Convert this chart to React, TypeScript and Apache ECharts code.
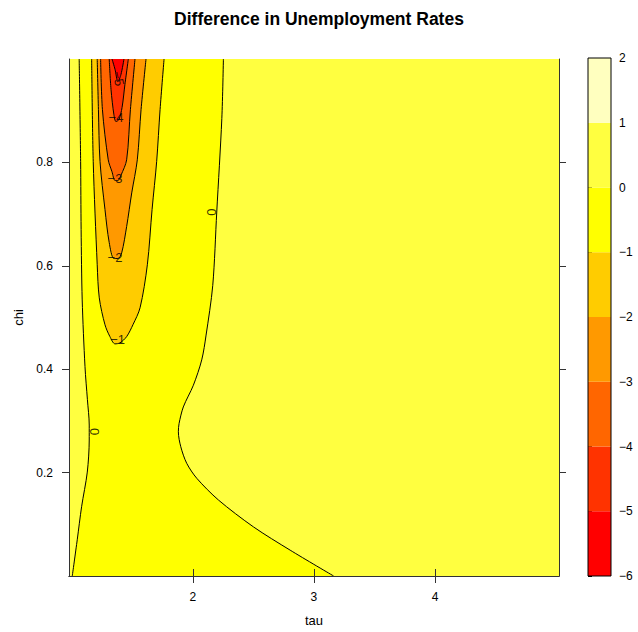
import React, { useEffect, useRef } from "react";
import * as echarts from "echarts";

// ---- axis ticks ----
const TAU_TICKS = [2, 3, 4];
const CHI_TICKS = [0.2, 0.4, 0.6, 0.8];
const TAU_RANGE = [0.978, 5.024];
const CHI_RANGE = [0, 1];

// ---- colour key ----
const LEVELS = [-6, -5, -4, -3, -2, -1, 0, 1, 2];
const BAND_COLORS = ["#FF0000", "#FF3300", "#FF6600", "#FF9900", "#FFCC00", "#FFFF00", "#FFFF40", "#FFFFBF"];

// ---- contour lines [tau, chi] ----
const CONTOUR_0_LEFT = [
  [1.005, 0], [1.046, 0.07], [1.082, 0.134], [1.129, 0.201], [1.145, 0.263], [1.145, 0.292],
  [1.13, 0.341], [1.11, 0.405], [1.087, 0.534], [1.078, 0.67], [1.074, 0.802], [1.062, 1.0],
];
const CONTOUR_0_RIGHT = [
  [2.253, 1.0], [2.24, 0.885], [2.198, 0.704], [2.165, 0.562], [2.11, 0.466], [2.074, 0.418],
  [2.005, 0.369], [1.922, 0.327], [1.887, 0.295], [1.881, 0.279], [1.901, 0.25], [1.95, 0.218],
  [2.033, 0.189], [2.212, 0.147], [2.501, 0.095], [2.804, 0.05], [3.163, 0],
];
const CONTOUR_M1 = [
  [1.165, 1.0], [1.178, 0.802], [1.211, 0.602], [1.228, 0.538], [1.275, 0.486], [1.316, 0.463],
  [1.358, 0.449], [1.399, 0.451], [1.454, 0.463], [1.506, 0.486], [1.565, 0.519], [1.625, 0.602],
  [1.664, 0.709], [1.702, 0.802], [1.73, 0.902], [1.763, 1.0],
];
const CONTOUR_M2 = [
  [1.211, 1.0], [1.221, 0.902], [1.234, 0.802], [1.275, 0.709], [1.31, 0.645], [1.349, 0.614],
  [1.382, 0.614], [1.413, 0.625], [1.454, 0.676], [1.496, 0.741], [1.542, 0.805], [1.573, 0.902],
  [1.614, 1.0],
];
const CONTOUR_M3 = [
  [1.239, 1.0], [1.254, 0.902], [1.302, 0.805], [1.333, 0.782], [1.358, 0.765], [1.382, 0.765],
  [1.407, 0.775], [1.454, 0.805], [1.485, 0.902], [1.523, 1.0],
];
const CONTOUR_M4 = [
  [1.31, 1.0], [1.325, 0.941], [1.349, 0.892], [1.366, 0.879], [1.391, 0.883], [1.416, 0.906],
  [1.44, 0.951], [1.468, 1.0],
];
const CONTOUR_M5 = [[1.333, 1.0], [1.358, 0.98], [1.382, 0.956], [1.407, 0.97], [1.432, 1.0]];

// contour labels
const LABEL_TEXTS = ["\u22125", "\u22124", "\u22123", "\u22122", "\u22121", "0", "0"];
const LABEL_POINTS = [
  [1.385, 0.962], [1.366, 0.886], [1.358, 0.768], [1.358, 0.617], [1.38, 0.457], [2.155, 0.704], [1.19, 0.279],
];
const LABEL_ROTATIONS = [-78, 0, 0, 0, 0, 90, 90];

const FONT = "'Liberation Sans', Arial, Helvetica, sans-serif";

export default function App() {
  const ref = useRef<HTMLDivElement>(null);

  useEffect(() => {
    if (!ref.current) return;
    const chart = echarts.init(ref.current, null, { renderer: "svg" });

    // filled regions: band -1..0 between the two zero contours, then nested U shapes
    const fills = [
      { pts: [...CONTOUR_0_LEFT, ...CONTOUR_0_RIGHT], color: BAND_COLORS[5] },
      { pts: CONTOUR_M1, color: BAND_COLORS[4] },
      { pts: CONTOUR_M2, color: BAND_COLORS[3] },
      { pts: CONTOUR_M3, color: BAND_COLORS[2] },
      { pts: CONTOUR_M4, color: BAND_COLORS[1] },
      { pts: CONTOUR_M5, color: BAND_COLORS[0] },
    ];
    const lines = [CONTOUR_0_LEFT, CONTOUR_0_RIGHT, CONTOUR_M1, CONTOUR_M2, CONTOUR_M3, CONTOUR_M4, CONTOUR_M5];

    const axisTextStyle = { color: "#000", fontSize: 12, fontFamily: FONT };
    const frameLine = { show: true, lineStyle: { color: "#333", width: 1 } };

    const option: any = {
      animation: false,
      textStyle: { fontFamily: FONT },
      title: {
        text: "Difference in Unemployment Rates",
        left: "center",
        top: 5,
        textStyle: { fontSize: 17.5, fontWeight: "bold", color: "#000", fontFamily: FONT },
      },
      grid: [
        { left: 69, top: 59, width: 490, height: 517, show: true, backgroundColor: BAND_COLORS[6], borderWidth: 0 },
        { left: 588, top: 58, width: 23, height: 518, show: true, z: 5, backgroundColor: "transparent", borderColor: "#000", borderWidth: 1 },
      ],
      xAxis: [
        {
          gridIndex: 0, type: "value", min: TAU_RANGE[0], max: TAU_RANGE[1], position: "bottom", z: 10,
          axisLine: frameLine,
          axisTick: { show: true, length: 7, customValues: TAU_TICKS, lineStyle: { color: "#333" } },
          axisLabel: { customValues: TAU_TICKS, margin: 15, ...axisTextStyle },
          splitLine: { show: false },
          name: "tau", nameLocation: "middle", nameGap: 38,
          nameTextStyle: { fontSize: 13, color: "#000", fontFamily: FONT },
        },
        {
          gridIndex: 0, type: "value", min: TAU_RANGE[0], max: TAU_RANGE[1], position: "top", z: 10,
          axisLine: frameLine,
          axisTick: { show: true, length: 7, customValues: TAU_TICKS, lineStyle: { color: "#333" } },
          axisLabel: { show: false },
          splitLine: { show: false },
        },
        { gridIndex: 1, type: "value", min: 0, max: 1, show: false },
      ],
      yAxis: [
        {
          gridIndex: 0, type: "value", min: CHI_RANGE[0], max: CHI_RANGE[1], position: "left", z: 10,
          axisLine: frameLine,
          axisTick: { show: true, length: 7, customValues: CHI_TICKS, lineStyle: { color: "#333" } },
          axisLabel: { customValues: CHI_TICKS, margin: 16, ...axisTextStyle },
          splitLine: { show: false },
          name: "chi", nameLocation: "middle", nameGap: 44, nameRotate: 90,
          nameTextStyle: { fontSize: 13, color: "#000", fontFamily: FONT },
        },
        {
          gridIndex: 0, type: "value", min: CHI_RANGE[0], max: CHI_RANGE[1], position: "right", z: 10,
          axisLine: frameLine,
          axisTick: { show: true, length: 7, customValues: CHI_TICKS, lineStyle: { color: "#333" } },
          axisLabel: { show: false },
          splitLine: { show: false },
        },
        {
          gridIndex: 1, type: "value", min: LEVELS[0], max: LEVELS[LEVELS.length - 1], interval: 1, position: "right",
          axisLine: { show: false },
          axisTick: { show: true, length: 4, lineStyle: { color: "#000" } },
          axisLabel: {
            margin: 8, ...axisTextStyle,
            formatter: (v: number) => (v < 0 ? "\u2212" + Math.abs(v) : String(v)),
          },
          splitLine: { show: false },
        },
      ],
      series: [
        {
          type: "custom",
          xAxisIndex: 0,
          yAxisIndex: 0,
          z: 1,
          silent: true,
          data: fills.map((f) => f.pts[0]),
          renderItem: (params: any, api: any) => {
            const f = fills[params.dataIndex];
            return {
              type: "polygon",
              shape: { points: f.pts.map((p) => api.coord(p)) },
              style: { fill: f.color, stroke: "none" },
            };
          },
        },
        ...lines.map((pts) => ({
          type: "line",
          xAxisIndex: 0,
          yAxisIndex: 0,
          z: 3,
          data: pts,
          smooth: 0.3,
          showSymbol: false,
          symbol: "none",
          silent: true,
          lineStyle: { color: "#000", width: 1 },
        })),
        {
          type: "scatter",
          xAxisIndex: 0,
          yAxisIndex: 0,
          z: 4,
          silent: true,
          symbolSize: 1,
          itemStyle: { color: "rgba(0,0,0,0)" },
          data: LABEL_POINTS.map((p, i) => ({
            value: p,
            label: {
              show: true,
              position: "inside",
              formatter: LABEL_TEXTS[i],
              rotate: LABEL_ROTATIONS[i],
              color: "#000",
              fontSize: 13,
              fontFamily: FONT,
            },
          })),
        },
        {
          type: "custom",
          xAxisIndex: 2,
          yAxisIndex: 2,
          silent: true,
          data: BAND_COLORS.map((_, i) => [0, LEVELS[i], LEVELS[i + 1]]),
          encode: { x: 0, y: 1 },
          renderItem: (params: any, api: any) => {
            const lo = api.value(1);
            const hi = api.value(2);
            const p0 = api.coord([0, lo]);
            const p1 = api.coord([1, hi]);
            return {
              type: "rect",
              shape: { x: p0[0], y: p1[1], width: p1[0] - p0[0], height: p0[1] - p1[1] },
              style: { fill: BAND_COLORS[params.dataIndex], stroke: "none" },
            };
          },
        },
      ],
    };

    chart.setOption(option);
    return () => chart.dispose();
  }, []);

  return (
    <div
      ref={ref}
      style={{ position: "absolute", left: 0, top: 0, width: 638, height: 632, background: "#fff" }}
    />
  );
}
